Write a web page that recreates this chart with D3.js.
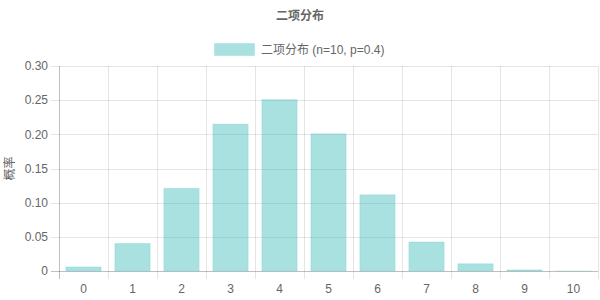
<!DOCTYPE html>
<html><head><meta charset="utf-8">
<script src="https://cdn.jsdelivr.net/npm/d3@7"></script>
<style>body{margin:0;background:#fff}svg{display:block}text{font-family:"Helvetica Neue",Helvetica,Arial,"Liberation Sans","Noto Sans CJK SC",sans-serif}</style>
</head><body><svg id="c" width="600" height="300"></svg>
<script>
const categories = ["0","1","2","3","4","5","6","7","8","9","10"];
const probabilities = [0.006, 0.0403, 0.1209, 0.215, 0.2508, 0.2007, 0.1115, 0.0425, 0.0106, 0.0016, 0.0001];
const yTicks = [0, 0.05, 0.10, 0.15, 0.20, 0.25, 0.30];
const titleText = "二项分布";
const legendText = "二项分布 (n=10, p=0.4)";
const yTitle = "概率";

const svg = d3.select("#c");
const L = 59, R = 598, T = 66, B = 271;
const x = d3.scaleBand().domain(categories).range([L, R]).paddingInner(0).paddingOuter(0);
const y = d3.scaleLinear().domain([0, 0.30]).range([B, T]);
const grid = "rgba(0,0,0,0.1)";
const txt = "#666";

// horizontal gridlines + y ticks
svg.append("g").selectAll("line").data(yTicks).join("line")
  .attr("x1", L - 8).attr("x2", R).attr("y1", d => Math.round(y(d)) + 0.5).attr("y2", d => Math.round(y(d)) + 0.5)
  .attr("stroke", (d) => d === 0 ? "rgba(0,0,0,0.25)" : grid).attr("stroke-width", 1);
// vertical gridlines at category boundaries
const bounds = categories.map(c => x(c)).concat([R]);
svg.append("g").selectAll("line").data(bounds).join("line")
  .attr("x1", d => Math.round(d) + 0.5).attr("x2", d => Math.round(d) + 0.5)
  .attr("y1", T).attr("y2", B + 8)
  .attr("stroke", (d, i) => i === 0 ? "rgba(0,0,0,0.25)" : grid);

// y tick labels
svg.append("g").selectAll("text").data(yTicks).join("text")
  .attr("x", 48).attr("y", d => y(d)).attr("dy", "0.35em").attr("text-anchor", "end")
  .attr("font-size", 12).attr("fill", txt)
  .text(d => d === 0 ? "0" : d3.format(".2f")(d));

// x tick labels
svg.append("g").selectAll("text").data(categories).join("text")
  .attr("x", d => x(d) + x.bandwidth() / 2).attr("y", 289).attr("dy", "0.35em").attr("text-anchor", "middle")
  .attr("font-size", 12).attr("fill", txt).text(d => d);

// bars
const bw = x.bandwidth() * 0.72;
svg.append("g").selectAll("rect").data(probabilities).join("rect")
  .attr("x", (d, i) => x(categories[i]) + (x.bandwidth() - bw) / 2)
  .attr("width", bw)
  .attr("y", d => y(d))
  .attr("height", d => B - y(d))
  .attr("fill", "rgba(75,192,192,0.48)")
  .attr("stroke", "rgba(75,192,192,0.2)").attr("stroke-width", 1);

// title
svg.append("text").attr("x", 300).attr("y", 16).attr("dy", "0.35em").attr("text-anchor", "middle")
  .attr("font-size", 12).attr("font-weight", "bold").attr("fill", txt).text(titleText);

// legend
svg.append("rect").attr("x", 214.5).attr("y", 43.5).attr("width", 40).attr("height", 12)
  .attr("fill", "rgba(75,192,192,0.48)").attr("stroke", "rgba(75,192,192,0.2)");
svg.append("text").attr("x", 261).attr("y", 49.5).attr("dy", "0.35em")
  .attr("font-size", 12).attr("fill", txt).text(legendText);

// y title
svg.append("text").attr("transform", "translate(10," + ((T + B) / 2) + ") rotate(-90)")
  .attr("dy", "0.35em").attr("text-anchor", "middle").attr("font-size", 12).attr("fill", txt).text(yTitle);
</script></body></html>
